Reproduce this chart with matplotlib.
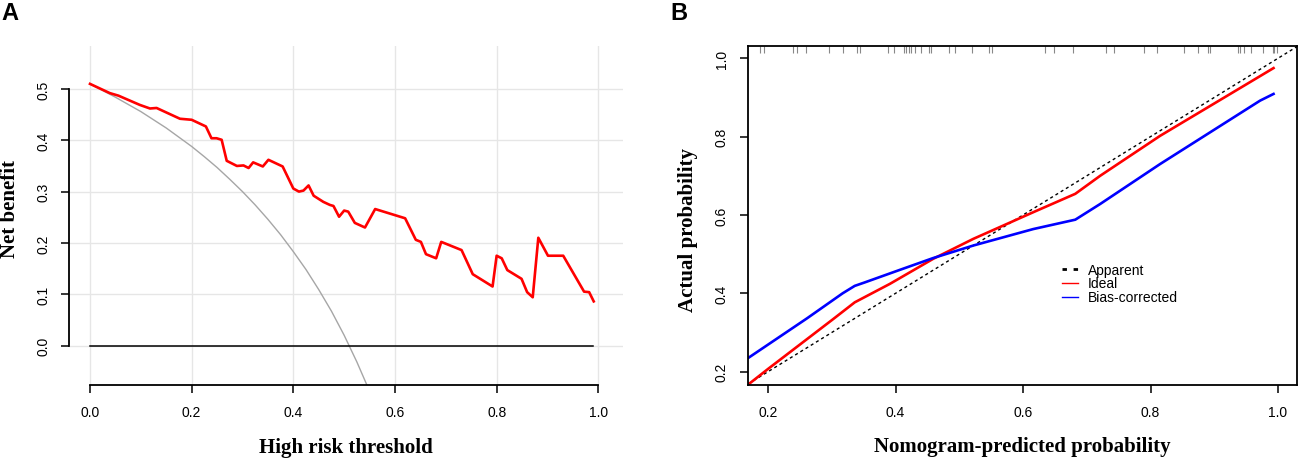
import matplotlib
matplotlib.use('Agg')
import matplotlib.pyplot as plt
from matplotlib.lines import Line2D
from matplotlib.ticker import FormatStrFormatter

plt.rcParams['font.family'] = ['Liberation Sans', 'DejaVu Sans']

# ---------------- Panel A data (decision curve) ----------------
threshold = [0.000, 0.039, 0.056, 0.098, 0.118, 0.131, 0.177, 0.200, 0.228, 0.239,
             0.249, 0.259, 0.269, 0.289, 0.302, 0.312, 0.321, 0.340, 0.351, 0.379,
             0.400, 0.411, 0.420, 0.430, 0.440, 0.459, 0.472, 0.479, 0.490, 0.500,
             0.508, 0.521, 0.541, 0.561, 0.620, 0.641, 0.651, 0.661, 0.681, 0.691,
             0.731, 0.753, 0.792, 0.800, 0.810, 0.821, 0.849, 0.860, 0.871, 0.882,
             0.901, 0.931, 0.972, 0.982, 0.991]
model_nb = [0.510, 0.492, 0.487, 0.469, 0.462, 0.463, 0.442, 0.440, 0.427, 0.404,
            0.404, 0.401, 0.360, 0.350, 0.351, 0.346, 0.357, 0.349, 0.362, 0.349,
            0.306, 0.300, 0.302, 0.312, 0.292, 0.280, 0.274, 0.272, 0.251, 0.263,
            0.261, 0.239, 0.230, 0.266, 0.248, 0.206, 0.202, 0.178, 0.170, 0.202,
            0.186, 0.139, 0.115, 0.175, 0.170, 0.147, 0.130, 0.104, 0.094, 0.210,
            0.175, 0.175, 0.105, 0.104, 0.086]

all_t = [0.000, 0.025, 0.050, 0.075, 0.100, 0.125, 0.150, 0.175, 0.200, 0.225,
         0.250, 0.275, 0.300, 0.325, 0.350, 0.375, 0.400, 0.425, 0.450, 0.475,
         0.500, 0.525, 0.550]
all_nb = [0.510, 0.497, 0.484, 0.470, 0.456, 0.440, 0.424, 0.406, 0.388, 0.368,
          0.347, 0.324, 0.300, 0.274, 0.246, 0.216, 0.183, 0.148, 0.109, 0.067,
          0.020, -0.032, -0.089]

none_t = [0.0, 0.99]
none_nb = [0.0, 0.0]

xticksA = [0.0, 0.2, 0.4, 0.6, 0.8, 1.0]
yticksA = [0.0, 0.1, 0.2, 0.3, 0.4, 0.5]

# ---------------- Panel B data (calibration) ----------------
ideal_x = [0.168, 0.200, 0.302, 0.336, 0.391, 0.459, 0.522, 0.616, 0.682, 0.721, 0.815, 0.993]
ideal_y = [0.166, 0.207, 0.334, 0.377, 0.424, 0.488, 0.539, 0.607, 0.654, 0.700, 0.802, 0.975]

bias_x = [0.168, 0.261, 0.317, 0.336, 0.352, 0.407, 0.459, 0.522, 0.616, 0.682,
          0.721, 0.815, 0.972, 0.993]
bias_y = [0.234, 0.336, 0.400, 0.419, 0.428, 0.460, 0.490, 0.522, 0.564, 0.588,
          0.628, 0.730, 0.892, 0.909]

rug_x = [0.187, 0.193, 0.239, 0.245, 0.260, 0.295, 0.317, 0.340, 0.345, 0.388,
         0.398, 0.414, 0.417, 0.421, 0.425, 0.430, 0.440, 0.453, 0.456, 0.484,
         0.494, 0.520, 0.547, 0.551, 0.635, 0.648, 0.678, 0.730, 0.742, 0.790,
         0.810, 0.853, 0.874, 0.890, 0.894, 0.937, 0.940, 0.947, 0.957, 0.977,
         0.992, 0.994, 0.998]

ticksB = [0.2, 0.4, 0.6, 0.8, 1.0]
legend_labels = ['Apparent', 'Ideal', 'Bias-corrected']

W, H = 1299, 460
fig = plt.figure(figsize=(W / 100, H / 100), dpi=100)

serif_bold = dict(family='Liberation Serif', weight='bold', size=15)

# ================= Panel A =================
A_bot, A_top = 385.5, 46.7
axA = fig.add_axes([69 / W, (H - A_bot) / H, (623 - 69) / W, (A_bot - A_top) / H])
axA.set_xlim(-0.0413, 1.0486)
axA.set_ylim(0.5 - (A_bot - 90) / 513, 0.5 + (90 - A_top) / 513)
axA.grid(True, color='#E6E6E6', lw=1.0)
axA.set_axisbelow(True)
axA.plot(all_t, all_nb, color='#A6A6A6', lw=1.0)
axA.plot(none_t, none_nb, color='black', lw=1.1)
axA.plot(threshold, model_nb, color='#FF0000', lw=1.9, solid_joinstyle='round')

for s in ['top', 'right']:
    axA.spines[s].set_visible(False)
axA.spines['left'].set_bounds(0.0, 0.5)
axA.spines['bottom'].set_bounds(0.0, 1.0)
for s in ['left', 'bottom']:
    axA.spines[s].set_linewidth(1.3)
axA.set_xticks(xticksA)
axA.set_yticks(yticksA)
axA.xaxis.set_major_formatter(FormatStrFormatter('%.1f'))
axA.yaxis.set_major_formatter(FormatStrFormatter('%.1f'))
axA.tick_params(direction='out', length=6, width=1.1, labelsize=10, colors='black')
axA.tick_params(axis='x', pad=8.5)
axA.tick_params(axis='y', labelrotation=90, pad=7)
for lab in axA.get_yticklabels():
    lab.set_va('center')
axA.set_xlabel('High risk threshold', va='center', **serif_bold)
axA.xaxis.set_label_coords(0.5, (A_bot - 448) / (A_bot - A_top))
axA.set_ylabel('Net benefit', va='center', **serif_bold)
axA.yaxis.set_label_coords((10 - 69) / (623 - 69), (A_bot - 209) / (A_bot - A_top))

# ================= Panel B =================
axB = fig.add_axes([748.3 / W, (H - 385.7) / H, (1297 - 748.3) / W, (385.7 - 47.3) / H])
axB.set_xlim(0.169, 1.0298)
axB.set_ylim(0.1667, 1.0306)
axB.axline((0, 0), (1, 1), color='black', lw=1.0, linestyle=(0, (2.2, 2.2)))
axB.plot(ideal_x, ideal_y, color='#FF0000', lw=1.9)
axB.plot(bias_x, bias_y, color='#0000FF', lw=1.9)
axB.vlines(rug_x, 1 - 6.5 / 338.4, 1.0, transform=axB.get_xaxis_transform(),
           color='#888888', lw=0.8)

for s in axB.spines.values():
    s.set_linewidth(1.3)
axB.set_xticks(ticksB)
axB.set_yticks(ticksB)
axB.xaxis.set_major_formatter(FormatStrFormatter('%.1f'))
axB.yaxis.set_major_formatter(FormatStrFormatter('%.1f'))
axB.tick_params(direction='out', length=6, width=1.1, labelsize=10, colors='black')
axB.tick_params(axis='x', pad=8.5)
axB.tick_params(axis='y', labelrotation=90, pad=8)
for lab in axB.get_yticklabels():
    lab.set_va('center')
axB.set_xlabel('Nomogram-predicted probability', va='center', **serif_bold)
axB.xaxis.set_label_coords(0.5, (385.7 - 447) / (385.7 - 47.3))
axB.set_ylabel('Actual probability', va='center', **serif_bold)
axB.yaxis.set_label_coords((688 - 748.3) / (1297 - 748.3), (385.7 - 230) / (385.7 - 47.3))

handles = [Line2D([], [], color='black', lw=2.0, linestyle=(0, (1.6, 2.4))),
           Line2D([], [], color='#FF0000', lw=1.0),
           Line2D([], [], color='#0000FF', lw=1.0)]
axB.legend(handles, legend_labels, loc='upper left',
           bbox_to_anchor=((1061.7 - 748.3) / 548.7, (385.7 - 263.5) / 338.4),
           frameon=False, fontsize=10, handlelength=1.2, handletextpad=0.7,
           labelspacing=0.0, borderaxespad=0, borderpad=0)

# panel letters
fig.text(1 / W, 1 - 2.5 / H, 'A', fontsize=17, fontweight='bold', va='top', ha='left')
fig.text(670.5 / W, 1 - 2.5 / H, 'B', fontsize=17, fontweight='bold', va='top', ha='left')

fig.savefig('out.png', dpi=100)
